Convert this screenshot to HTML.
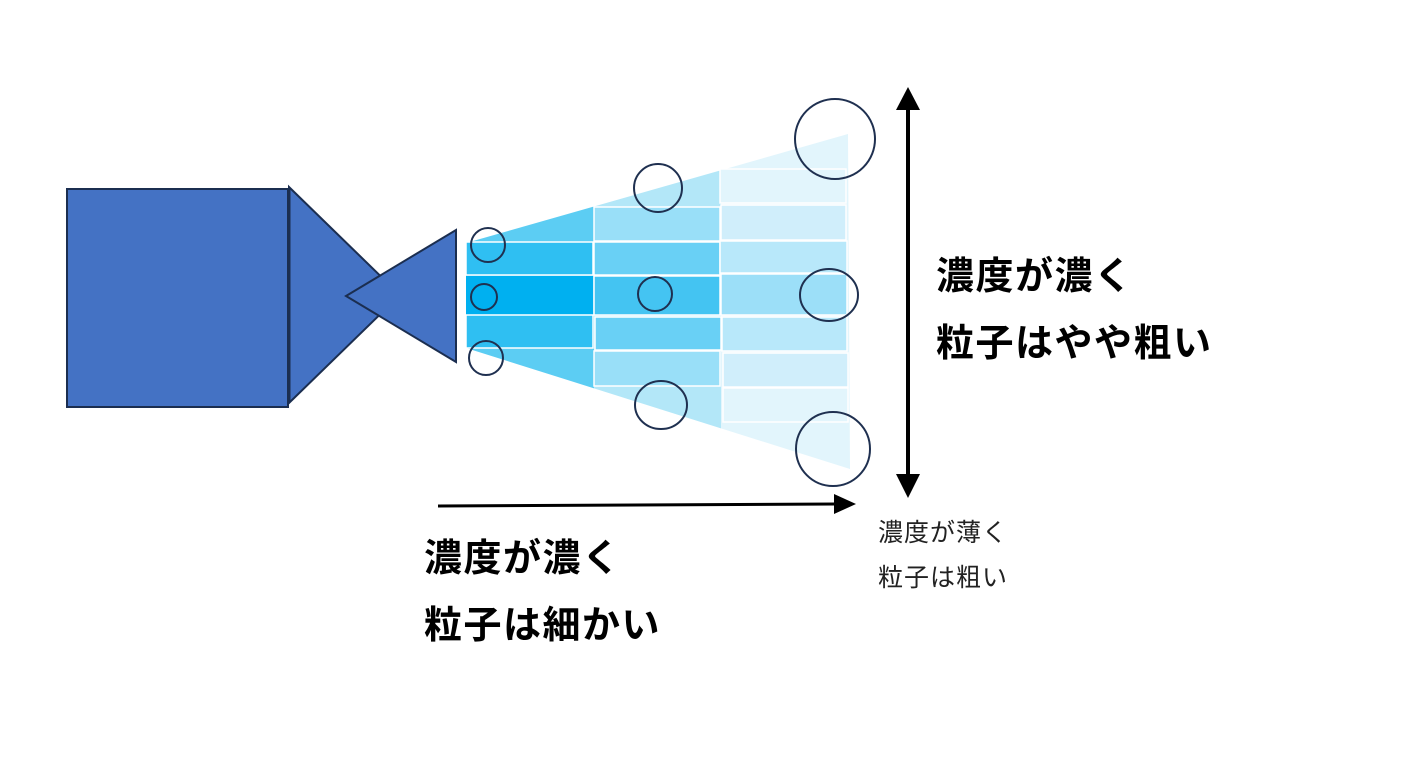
<!DOCTYPE html>
<html><head><meta charset="utf-8"><style>
html,body{margin:0;padding:0;background:#fff;}
svg{display:block;}
text{font-family:"Liberation Sans","Noto Sans CJK JP",sans-serif;}
</style></head><body>
<svg width="1413" height="760" viewBox="0 0 1413 760" xmlns="http://www.w3.org/2000/svg">
<defs>
<clipPath id="fan"><polygon points="466,243 848,134 850,469 466,348"/></clipPath>
</defs>
<rect x="67" y="189" width="221" height="218" fill="#4472c4" stroke="#1b2e50" stroke-width="2"/>
<polygon points="289,187 400,295 289,403" fill="#4472c4" stroke="#1b2e50" stroke-width="2"/>
<line x1="289" y1="188" x2="289" y2="403" stroke="#1b2e50" stroke-width="3"/>
<polygon points="346,296 456,230 456,362" fill="#4472c4" stroke="#1b2e50" stroke-width="2"/>
<g clip-path="url(#fan)">
<rect x="466" y="130" width="128" height="345" fill="#5ccdf3"/>
<rect x="594" y="130" width="127" height="345" fill="#b3e7f8"/>
<rect x="721" y="130" width="130" height="345" fill="#e2f5fc"/>
</g>
<g stroke="#fff" stroke-width="1.5">
<rect x="466" y="242" width="127" height="33" fill="#2fbff2"/>
<rect x="466" y="276" width="127" height="39" fill="#00b0f0" stroke="none"/>
<rect x="466" y="315" width="127" height="33" fill="#2fbff2"/>
<rect x="594" y="207" width="126" height="34" fill="#99dff8"/>
<rect x="594" y="242" width="126" height="33" fill="#69d0f5"/>
<rect x="594" y="276" width="126" height="39" fill="#44c4f2"/>
<rect x="595" y="317" width="126" height="33" fill="#69d0f5"/>
<rect x="594" y="351" width="126" height="35" fill="#99dff8"/>
<rect x="720" y="169" width="126" height="34" fill="#e2f5fc"/>
<rect x="721" y="205" width="125" height="35" fill="#d0eefb"/>
<rect x="720" y="241" width="127" height="32" fill="#b8e8fa"/>
<rect x="721" y="274" width="126" height="41" fill="#9cdff8"/>
<rect x="722" y="317" width="125" height="34" fill="#b8e8fa"/>
<rect x="723" y="353" width="125" height="34" fill="#d0eefb"/>
<rect x="723" y="388" width="125" height="34" fill="#e2f5fc"/>
</g>
<g fill="none" stroke="#1f3050" stroke-width="2">
<circle cx="488" cy="245" r="17"/>
<circle cx="484" cy="297" r="13"/>
<circle cx="486" cy="358" r="17"/>
<circle cx="658" cy="188" r="24"/>
<circle cx="655" cy="294" r="17"/>
<ellipse cx="661" cy="405" rx="26" ry="24"/>
<circle cx="835" cy="139" r="40"/>
<ellipse cx="829" cy="295" rx="29" ry="26"/>
<circle cx="833" cy="449" r="37"/>
</g>
<line x1="908" y1="105" x2="908" y2="478" stroke="#000" stroke-width="4"/>
<polygon points="908,87 896,110 920,110" fill="#000"/>
<polygon points="908,498 896,474 920,474" fill="#000"/>
<line x1="438" y1="506" x2="836" y2="504" stroke="#000" stroke-width="3"/>
<polygon points="856,504 834,494 834,514" fill="#000"/>
<g font-weight="bold" font-size="38" fill="#000" letter-spacing="1.5">
<text x="936" y="289">濃度が濃く</text>
<text x="936" y="356">粒子はやや粗い</text>
<text x="424" y="571">濃度が濃く</text>
<text x="424" y="638">粒子は細かい</text>
</g>
<g font-size="25" fill="#222" letter-spacing="1">
<text x="878" y="541">濃度が薄く</text>
<text x="878" y="586">粒子は粗い</text>
</g>
</svg>
</body></html>
